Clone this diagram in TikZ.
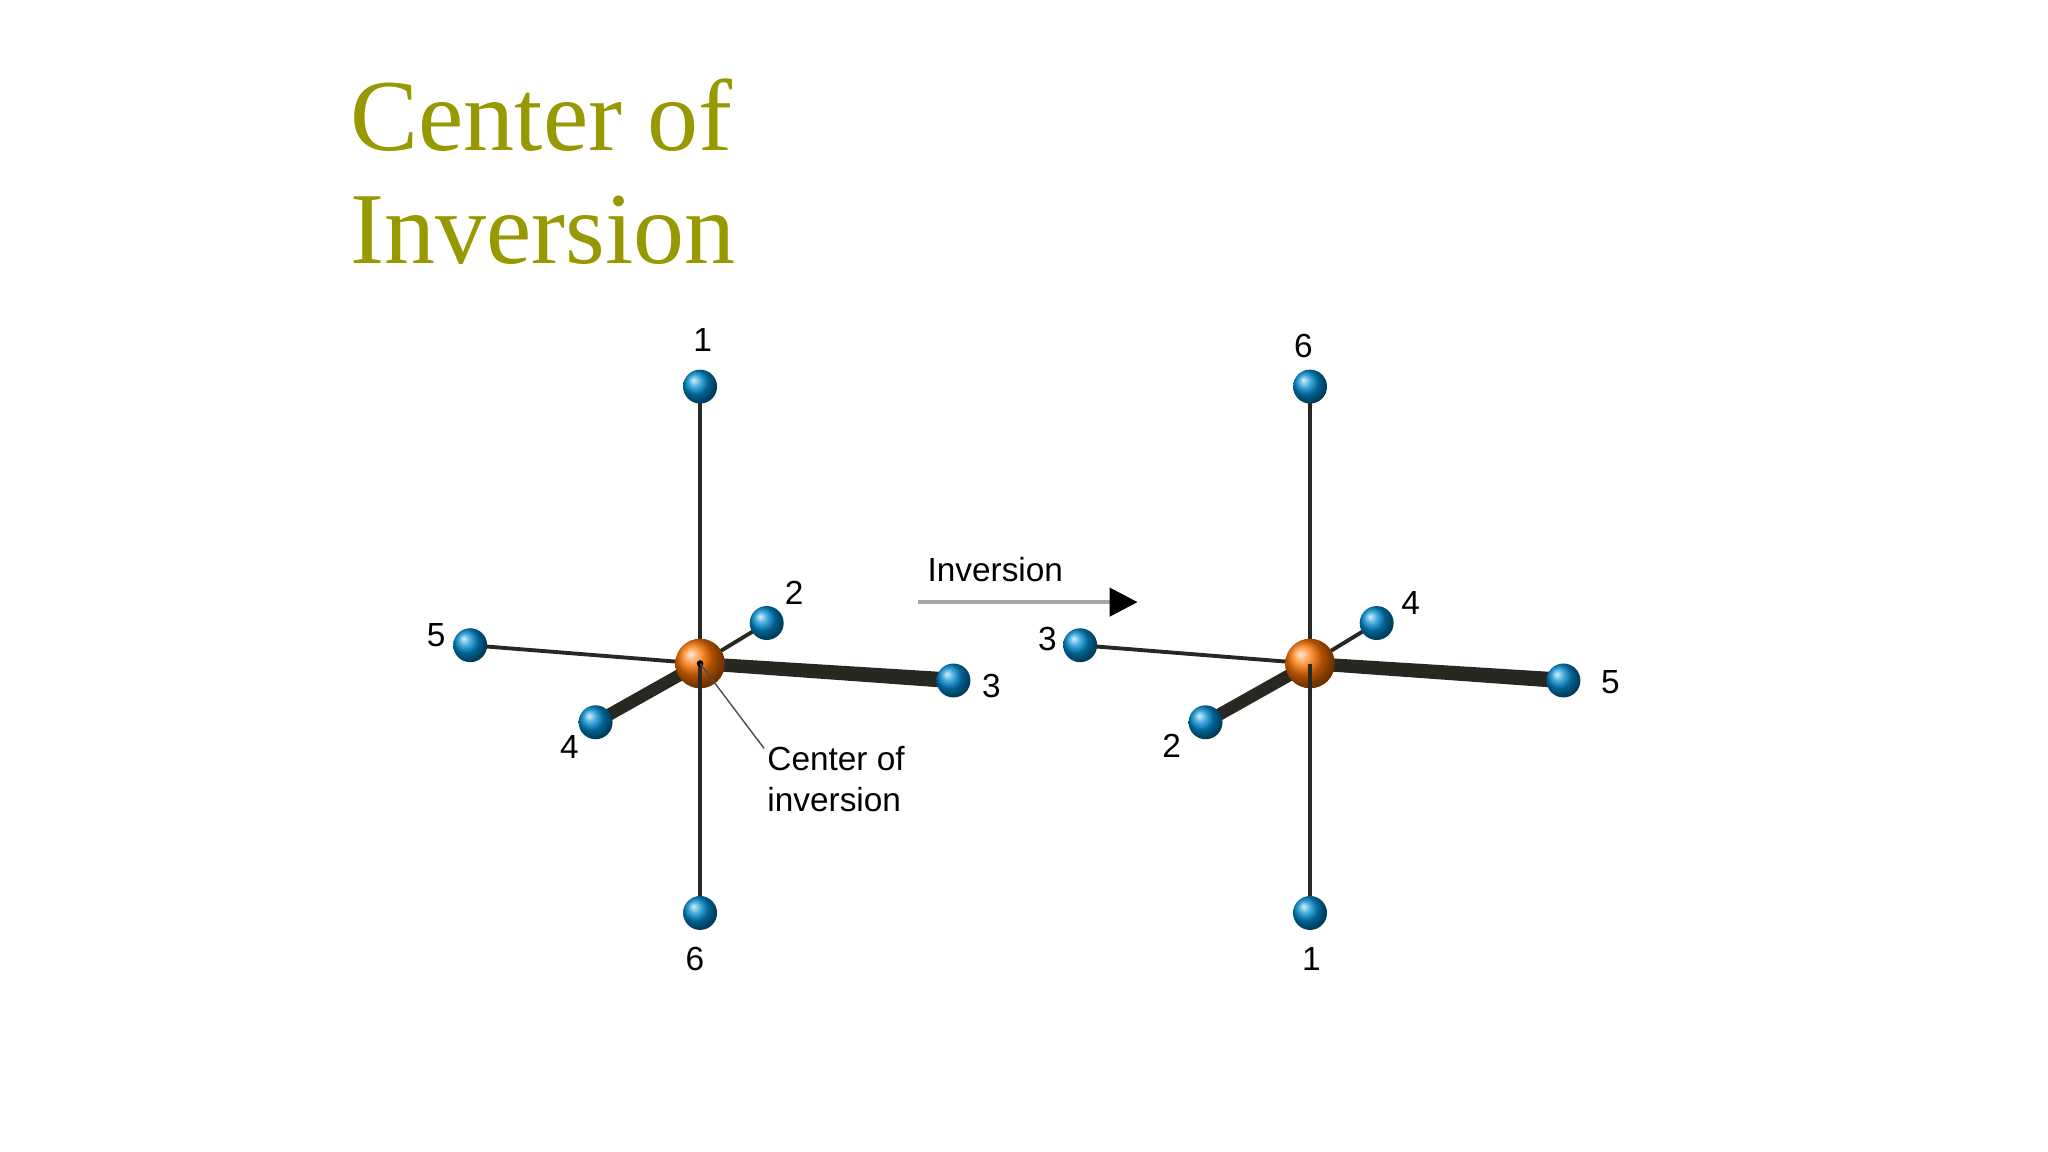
\documentclass[tikz,border=0pt]{standalone}
\usepackage{fontspec}
\setmainfont{Liberation Serif}
\newfontfamily\lab{Liberation Sans}
\usetikzlibrary{arrows.meta}
\definecolor{titleol}{RGB}{152,152,0}
\definecolor{atomblue}{RGB}{0,140,210}
\definecolor{bondc}{RGB}{40,40,35}
\tikzset{
 atom/.style={circle,inner sep=0pt,minimum size=26*0.01306cm,shading=ball,ball color=atomblue},
 core/.style={circle,inner sep=0pt,minimum size=38*0.01306cm,shading=ball,ball color=orange!90!red},
 num/.style={font=\lab\fontsize{9.5}{11}\selectfont,inner sep=0pt},
 thin bond/.style={draw=bondc,line width=1.1pt},
}
\begin{document}
\begin{tikzpicture}[x=0.01306cm,y=-0.01306cm]
\path[use as bounding box] (0,0) rectangle (1568,882);
\node[anchor=base west,text=titleol,font=\fontsize{29}{34}\selectfont,inner sep=0pt] (t1) at (268,115) {Center of};
\node[anchor=base west,text=titleol,font=\fontsize{29}{34}\selectfont,inner sep=0pt] (t2) at (268,202) {Inversion};
\foreach \dx/\cn in {0/L,467/R}{
 \coordinate (\cn c) at (536+\dx,508);
 \coordinate (\cn t) at (536+\dx,296);
 \coordinate (\cn b) at (536+\dx,699);
 \coordinate (\cn w) at (360+\dx,494);
 \coordinate (\cn e) at (730+\dx,521);
 \coordinate (\cn n) at (587+\dx,477);
 \coordinate (\cn s) at (456+\dx,553);
 \draw[thin bond] (\cn c) -- (\cn n);
 \draw[thin bond] (\cn t) -- (\cn b);
 \draw[thin bond] (\cn c) -- (\cn w);
 \fill[bondc] (536+\dx,503) -- (730+\dx,515) -- (730+\dx,527) -- (536+\dx,513) -- cycle;
 \draw[draw=bondc,line width=3.5pt] (\cn c) -- (\cn s);
 \node[atom] (\cn T) at (\cn t) {};
 \node[atom] (\cn B) at (\cn b) {};
 \node[atom] (\cn W) at (\cn w) {};
 \node[atom] (\cn E) at (\cn e) {};
 \node[atom] (\cn N) at (\cn n) {};
 \node[atom] (\cn S) at (\cn s) {};
 \node[core] (\cn C) at (\cn c) {};
}
\draw[thin bond] (Lc) -- (536,530);
\draw[thin bond] (Rc) -- (1003,530);
\fill[black] (Lc) circle (2.5);
\node[num] (l1) at (538,260) {1};
\node[num] (l2) at (608,454) {2};
\node[num] (l5) at (334,486) {5};
\node[num] (l3) at (759,525) {3};
\node[num] (l4) at (436,572) {4};
\node[num] (l6) at (532,734) {6};
\node[num] (r6) at (998,265) {6};
\node[num] (r4) at (1080,462) {4};
\node[num] (r3) at (802,489) {3};
\node[num] (r5) at (1233,522) {5};
\node[num] (r2) at (897,571) {2};
\node[num] (r1) at (1004,734) {1};
\node[num,anchor=north west,align=left,font=\lab\fontsize{9.5}{11.5}\selectfont] (cl) at (587,571) {Center of\\inversion};
\coordinate (cle) at (585,573);
\draw[black!70,line width=0.4pt] (Lc) -- (cle);
\coordinate (a1) at (703,461);
\coordinate (a2) at (871,461);
\draw[gray!70,line width=1.2pt,-{Triangle[length=8pt,width=8pt,color=black]}] (a1) -- (a2);
\node[num] (inv) at (762,436) {Inversion};
\end{tikzpicture}
\end{document}
